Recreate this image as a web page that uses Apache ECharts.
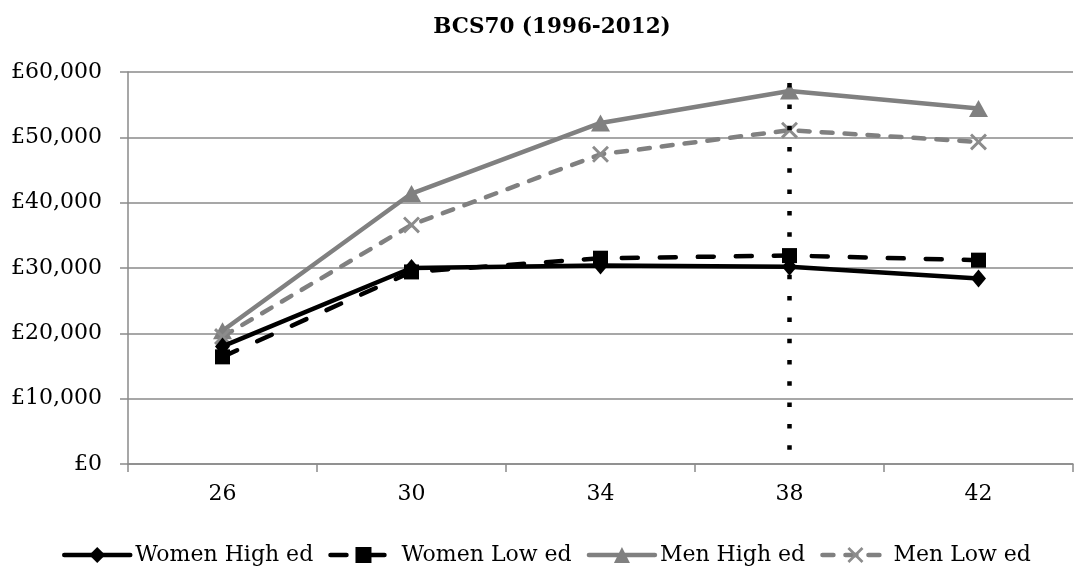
<!DOCTYPE html>
<html>
<head>
<meta charset="utf-8">
<script src="https://cdn.jsdelivr.net/npm/echarts@6/dist/echarts.min.js"></script>
<style>
  html, body { margin: 0; padding: 0; background: #fff; }
  #chart { width: 1078px; height: 569px; }
</style>
</head>
<body>
<div id="chart"></div>
<script>
// Ages at interview (BCS70 sweeps)
const ages = ['26', '30', '34', '38', '42'];

// Median earnings by sex and education level (£)
const womenHigh = [18000, 30000, 30400, 30200, 28400];
const womenLow  = [16400, 29400, 31500, 31900, 31200];
const menHigh   = [20400, 41400, 52200, 57100, 54400];
const menLow    = [19500, 36600, 47400, 51100, 49300];

// Value axis ticks
const yTicks = [0, 10000, 20000, 30000, 40000, 50000, 60000];

// Reference line at age 38
const refAge = '38';
const refSpan = [58300, 1500];

const FONT = 'DejaVu Serif';
const BLACK = '#000000';
const GREY = '#808080';
const AXIS = '#8a8a8a';

const crossPath = 'path://M0,1.2L1.2,0L10,8.8L8.8,10Z M8.8,0L10,1.2L1.2,10L0,8.8Z';

function pounds(v) {
  return '£' + String(v).replace(/\B(?=(\d{3})+(?!\d))/g, ',');
}

const chart = echarts.init(document.getElementById('chart'), null, { renderer: 'canvas' });

chart.setOption({
  animation: false,
  backgroundColor: '#ffffff',
  title: {
    text: 'BCS70 (1996-2012)',
    left: 547,
    top: 11,
    textAlign: 'center',
    textStyle: { fontFamily: FONT, fontWeight: 'bold', fontSize: 21.5, color: BLACK }
  },
  legend: {
    left: 57,
    top: 539,
    itemWidth: 66,
    itemHeight: 20,
    itemGap: 15,
    lineStyle: { width: 4.5 },
    textStyle: { fontFamily: FONT, fontSize: 22, color: BLACK },
    data: ['Women High ed', 'Women Low ed', 'Men High ed', 'Men Low ed']
  },
  grid: { left: 128, right: 5, top: 72, bottom: 105, containLabel: false },
  xAxis: {
    type: 'category',
    data: ages,
    boundaryGap: true,
    axisLine: { lineStyle: { color: AXIS, width: 1.5 } },
    axisTick: { show: true, length: 8, inside: false, lineStyle: { color: AXIS, width: 1.5 } },
    axisLabel: { margin: 19, fontFamily: FONT, fontSize: 22, color: BLACK },
    splitLine: { show: false }
  },
  yAxis: {
    type: 'value',
    min: yTicks[0],
    max: yTicks[yTicks.length - 1],
    interval: yTicks[1] - yTicks[0],
    axisLine: { show: true, lineStyle: { color: AXIS, width: 1.5 } },
    axisTick: { show: true, length: 8, lineStyle: { color: AXIS, width: 1.5 } },
    axisLabel: { margin: 26, fontFamily: FONT, fontSize: 22, color: BLACK, formatter: pounds },
    splitLine: { show: true, lineStyle: { color: AXIS, width: 1.5 } }
  },
  series: [
    {
      name: 'Women High ed',
      type: 'line',
      data: womenHigh,
      symbol: 'diamond',
      symbolSize: [15, 18],
      z: 3,
      lineStyle: { color: BLACK, width: 4.5, cap: 'round' },
      itemStyle: { color: BLACK }
    },
    {
      name: 'Women Low ed',
      type: 'line',
      data: womenLow,
      symbol: 'rect',
      symbolSize: 15,
      z: 3,
      lineStyle: { color: BLACK, width: 4.5, type: [16, 22], cap: 'round' },
      itemStyle: { color: BLACK },
      markLine: {
        silent: true,
        symbol: ['none', 'none'],
        label: { show: false },
        lineStyle: { color: BLACK, width: 4.5, type: [4.5, 16.8], cap: 'butt' },
        data: [[{ coord: [refAge, refSpan[0]] }, { coord: [refAge, refSpan[1]] }]]
      }
    },
    {
      name: 'Men High ed',
      type: 'line',
      data: menHigh,
      symbol: 'triangle',
      symbolSize: [19, 17],
      z: 2,
      lineStyle: { color: GREY, width: 4.5, cap: 'round' },
      itemStyle: { color: GREY }
    },
    {
      name: 'Men Low ed',
      type: 'line',
      data: menLow,
      symbol: crossPath,
      symbolSize: 17,
      z: 2,
      lineStyle: { color: GREY, width: 4.5, type: [11, 12], cap: 'round' },
      itemStyle: { color: '#8c8c8c' }
    }
  ]
});
</script>
</body>
</html>
